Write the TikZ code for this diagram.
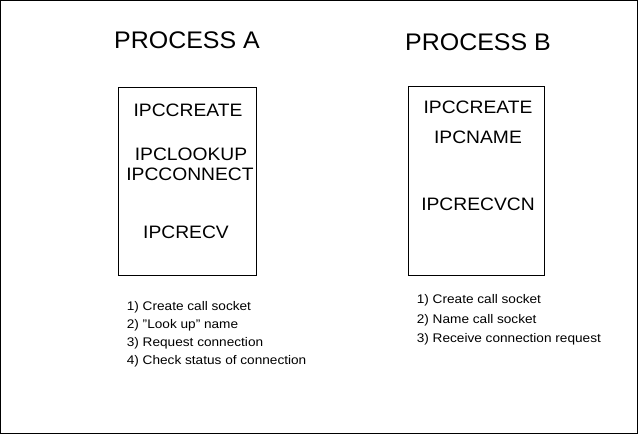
\documentclass[tikz,border=0pt]{standalone}
\usepackage{fontspec}
\setmainfont{Liberation Sans}
\begin{document}
\begin{tikzpicture}[x=1pt,y=-1pt,
  title/.style={font=\fontsize{24}{26}\selectfont,xscale=1.04},
  call/.style={font=\fontsize{18}{20}\selectfont,xscale=1.07},
  item/.style={font=\fontsize{12.5}{14}\selectfont,anchor=west,xscale=1.09},
  box/.style={draw,line width=0.8pt}]
\draw[line width=0.8pt] (0.5,0.5) rectangle (637.5,433.5);
\useasboundingbox (0,0) rectangle (638,434);
\node[title] (ta) at (187,40) {PROCESS A};
\node[title] (tb) at (478,42) {PROCESS B};
\draw[box] (118,87) rectangle (256,275);
\draw[box] (408,86) rectangle (544,275);
\node[call] (a1) at (188,110) {IPCCREATE};
\node[call] (a2) at (191,154) {IPCLOOKUP};
\node[call] (a3) at (190,174) {IPCCONNECT};
\node[call] (a4) at (186,232) {IPCRECV};
\node[call] (b1) at (478,107) {IPCCREATE};
\node[call] (b2) at (478,137) {IPCNAME};
\node[call] (b3) at (478,204) {IPCRECVCN};
\node[item] (la1) at (123,307) {1) Create call socket};
\node[item] (la2) at (123,325) {2) "Look up" name};
\node[item] (la3) at (123,343) {3) Request connection};
\node[item] (la4) at (123,361) {4) Check status of connection};
\node[item] (lb1) at (413,300) {1) Create call socket};
\node[item] (lb2) at (413,320) {2) Name call socket};
\node[item] (lb3) at (413,339) {3) Receive connection request};
\end{tikzpicture}
\end{document}
